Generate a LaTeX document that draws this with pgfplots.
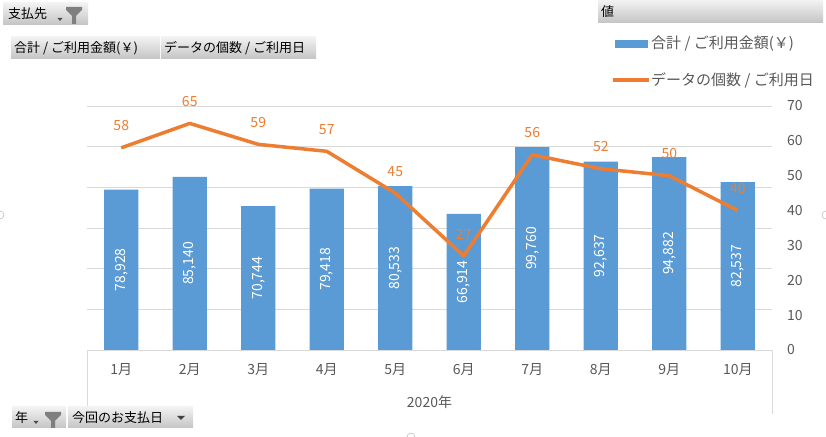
\documentclass[border=0pt]{standalone}
\usepackage{fontspec}
\setmainfont{Noto Sans CJK JP}
\usepackage{pgfplots}
\pgfplotsset{compat=1.18}
\usepackage{pgfplotstable}
\definecolor{barblue}{HTML}{5B9BD5}
\definecolor{lineorange}{HTML}{ED7D31}
\definecolor{gridgray}{HTML}{D9D9D9}
\definecolor{txtgray}{HTML}{595959}
\definecolor{btntop}{HTML}{F2F2F2}
\definecolor{btnbot}{HTML}{C4C4C4}
\definecolor{icongray}{HTML}{7F7F7F}
\newcommand{\fs}[1]{\fontsize{#1bp}{#1bp}\selectfont}
\pgfkeys{/pgf/number format/.cd, assume math mode=true}

\pgfplotstableread{
x v c
0 78928 58
1 85140 65
2 70744 59
3 79418 57
4 80533 45
5 66914 27
6 99760 56
7 92637 52
8 94882 50
9 82537 40
}\data

\begin{document}
\begin{tikzpicture}[x=1bp,y=1bp]
\path[use as bounding box, fill=white] (0,0) rectangle (826,437);
\begin{axis}[at={(87bp,87bp)}, anchor=south west, scale only axis,
  width=685bp, height=244bp,
  xmin=-0.5, xmax=9.5, ymin=0, ymax=120000,
  xtick={0,...,9},
  xticklabels={1月,2月,3月,4月,5月,6月,7月,8月,9月,10月},
  ytick={0,20000,...,120000}, yticklabels={}, scaled y ticks=false,
  ymajorgrids, grid style={gridgray, line width=0.8bp},
  axis line style={draw=none}, major tick length=0pt,
  xticklabel style={text=txtgray, font=\fs{14}, anchor=center, inner sep=0pt, yshift=-20bp},
  clip=false]
\addplot[ybar, bar width=0.5, fill=barblue, draw=none] table[x=x, y=v]{\data};
\addplot[draw=none, mark=none, point meta=explicit,
  nodes near coords={\pgfmathprintnumber[fixed,precision=0,1000 sep={,}]{\pgfplotspointmeta}},
  nodes near coords style={anchor=center, rotate=90, text=white, font=\fs{14}, inner sep=0pt}]
  table[x=x, y expr=\thisrow{v}/2, meta=v]{\data};
\end{axis}
\begin{axis}[at={(87bp,87bp)}, anchor=south west, scale only axis,
  width=685bp, height=244bp,
  xmin=-0.5, xmax=9.5, ymin=0, ymax=70,
  axis x line=none, axis y line*=right, xtick=\empty,
  ytick={0,10,...,70},
  axis line style={draw=none}, major tick length=0pt,
  yticklabel style={text=txtgray, font=\fs{14}, anchor=west, inner sep=0pt, xshift=15bp},
  clip=false]
\addplot[lineorange, line width=3.5bp, line join=round, mark=none,
  nodes near coords,
  nodes near coords style={anchor=south, inner sep=0pt, yshift=15bp, text=lineorange, font=\fs{14}}]
  table[x=x, y=c]{\data};
\end{axis}
% category box lines
\draw[gridgray, line width=0.8bp] (87,87) -- (87,23);
\draw[gridgray, line width=0.8bp] (772,87) -- (772,23);
\node[text=txtgray, font=\fs{14}, inner sep=0pt] at (429.5,35) {2020年};
% legend
\fill[barblue] (615,437-48) rectangle (648,437-40);
\node[anchor=west, text=txtgray, font=\fs{15}, inner sep=0pt] at (651,437-44) {合計 / ご利用金額(￥)};
\draw[lineorange, line width=4bp] (613,437-80.5) -- (649,437-80.5);
\node[anchor=west, text=txtgray, font=\fs{15}, inner sep=0pt] at (651,437-80) {データの個数 / ご利用日};
% field buttons
\shade[top color=btntop, bottom color=btnbot] (3,437-3) rectangle (88,437-25);
\node[anchor=west, font=\fs{13}, inner sep=0pt] at (8,437-14) {支払先};
\fill[icongray] (66,437-7) -- (82,437-7) -- (82,437-10) -- (76,437-16) -- (76,437-24) -- (72,437-24) -- (72,437-16) -- (66,437-10) -- cycle;
\fill[black!70] (57.5,437-18) -- (62.5,437-18) -- (60,437-21) -- cycle;
\shade[top color=btntop, bottom color=btnbot] (11,437-37) rectangle (160,437-59);
\node[anchor=west, font=\fs{13}, inner sep=0pt] at (14,437-48) {合計 / ご利用金額(￥)};
\shade[top color=btntop, bottom color=btnbot] (161,437-37) rectangle (316,437-59);
\node[anchor=west, font=\fs{13}, inner sep=0pt] at (164,437-48) {データの個数 / ご利用日};
\shade[top color=btntop, bottom color=btnbot] (598,437-0) rectangle (823,437-23);
\node[anchor=west, font=\fs{13}, inner sep=0pt] at (601,437-12) {値};
\shade[top color=btntop, bottom color=btnbot] (12,437-407) rectangle (66,437-428);
\node[anchor=west, font=\fs{13}, inner sep=0pt] at (15,437-418) {年};
\fill[icongray] (45,437-412) -- (61,437-412) -- (61,437-415) -- (55,437-421) -- (55,437-428) -- (51,437-428) -- (51,437-421) -- (45,437-415) -- cycle;
\fill[black!70] (33.5,437-421) -- (38.5,437-421) -- (36,437-424) -- cycle;
\shade[top color=btntop, bottom color=btnbot] (68,437-407) rectangle (193,437-428);
\node[anchor=west, font=\fs{13}, inner sep=0pt] at (72,437-418) {今回のお支払日};
\fill[black!75] (177,437-416) -- (185,437-416) -- (181,437-420) -- cycle;
% selection handles
\draw[gray!70, fill=white] (0,437-215) circle (4);
\draw[gray!70, fill=white] (826,437-215) circle (4);
\draw[gray!70, fill=white] (411,0) circle (4);
\end{tikzpicture}
\end{document}
